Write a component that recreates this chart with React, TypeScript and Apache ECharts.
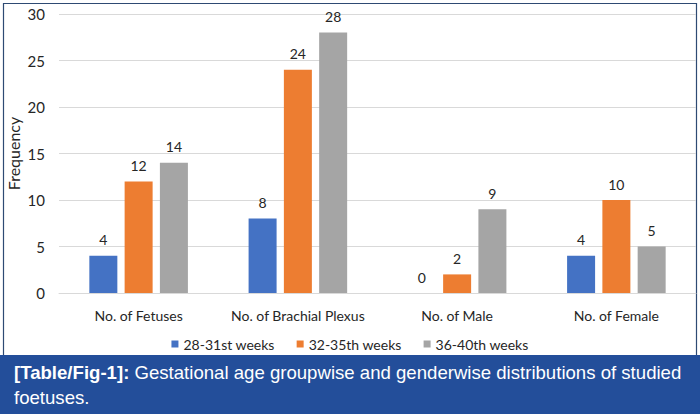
import React, { useEffect, useRef } from "react";
import * as echarts from "echarts";

const categories = ["No. of Fetuses", "No. of Brachial Plexus", "No. of Male", "No. of Female"];
const seriesNames = ["28-31st weeks", "32-35th weeks", "36-40th weeks"];
const weeks28to31 = [4, 8, 0, 4];
const weeks32to35 = [12, 24, 2, 10];
const weeks36to40 = [14, 28, 9, 5];
const colors = ["#4472C4", "#ED7D31", "#A5A5A5"];
const yTicks = { min: 0, max: 30, interval: 5 };
const captionBold = "[Table/Fig-1]:";
const captionLine1 = " Gestational age groupwise and genderwise distributions of studied";
const captionLine2 = "foetuses.";

const FONT = "Lato, 'Open Sans', sans-serif";
const CAP_FONT = "'Liberation Sans', Arial, sans-serif";

export default function App() {
  const ref = useRef<HTMLDivElement>(null);
  useEffect(() => {
    const chart = echarts.init(ref.current!, null, { renderer: "svg" });
    const data = [weeks28to31, weeks32to35, weeks36to40];
    chart.setOption({
      animation: false,
      backgroundColor: "#ffffff",
      grid: {
        left: 59,
        right: 4,
        top: 14,
        bottom: 121,
        containLabel: false,
        outerBoundsMode: "none",
      },
      legend: {
        data: seriesNames,
        top: 332,
        left: "center",
        icon: "rect",
        itemWidth: 7,
        itemHeight: 7,
        itemGap: 22,
        textStyle: { fontFamily: FONT, fontSize: 14, color: "#262626" },
      },
      xAxis: {
        type: "category",
        data: categories,
        axisTick: { show: false },
        axisLine: { show: true, lineStyle: { color: "#D9D9D9", width: 1 } },
        axisLabel: { interval: 0, fontFamily: FONT, fontSize: 14, color: "#262626", margin: 15 },
      },
      yAxis: {
        type: "value",
        min: yTicks.min,
        max: yTicks.max,
        interval: yTicks.interval,
        name: "Frequency",
        nameLocation: "middle",
        nameGap: 38,
        nameMoveOverlap: false,
        nameTextStyle: { fontFamily: FONT, fontSize: 16, color: "#262626" },
        axisLine: { show: false },
        axisTick: { show: false },
        axisLabel: { fontFamily: FONT, fontSize: 15, color: "#262626", margin: 14 },
        splitLine: { lineStyle: { color: "#D9D9D9", width: 1 } },
      },
      series: seriesNames.map((name, i) => ({
        name,
        type: "bar",
        data: data[i],
        barWidth: 28,
        barGap: "26%",
        itemStyle: { color: colors[i] },
        label: {
          show: true,
          position: "top",
          distance: 9,
          fontFamily: FONT,
          fontSize: 14,
          color: "#262626",
        },
      })),
      graphic: [
        {
          type: "rect",
          shape: { x: 3.5, y: 3.5, width: 693, height: 352 },
          style: { fill: "none", stroke: "#2E4A73", lineWidth: 1.2 },
          silent: true,
        },
        {
          type: "rect",
          shape: { x: 0, y: 355, width: 700, height: 59 },
          style: { fill: "#234E9A" },
          silent: true,
        },
        {
          type: "text",
          x: 14,
          y: 372,
          style: {
            text: "{b|" + captionBold + "}{n|" + captionLine1 + "}",
            verticalAlign: "middle",
            rich: {
              b: { fontFamily: CAP_FONT, fontSize: 18.6, fontWeight: "bold", fill: "#ffffff" },
              n: { fontFamily: CAP_FONT, fontSize: 18.6, fill: "#ffffff" },
            },
          },
          silent: true,
        },
        {
          type: "text",
          x: 14,
          y: 397,
          style: {
            text: captionLine2,
            verticalAlign: "middle",
            fontFamily: CAP_FONT,
            fontSize: 18.6,
            fill: "#ffffff",
          },
          silent: true,
        },
      ],
    });
    return () => chart.dispose();
  }, []);
  return (
    <div
      ref={ref}
      style={{ position: "fixed", left: 0, top: 0, width: 700, height: 414 }}
    />
  );
}
